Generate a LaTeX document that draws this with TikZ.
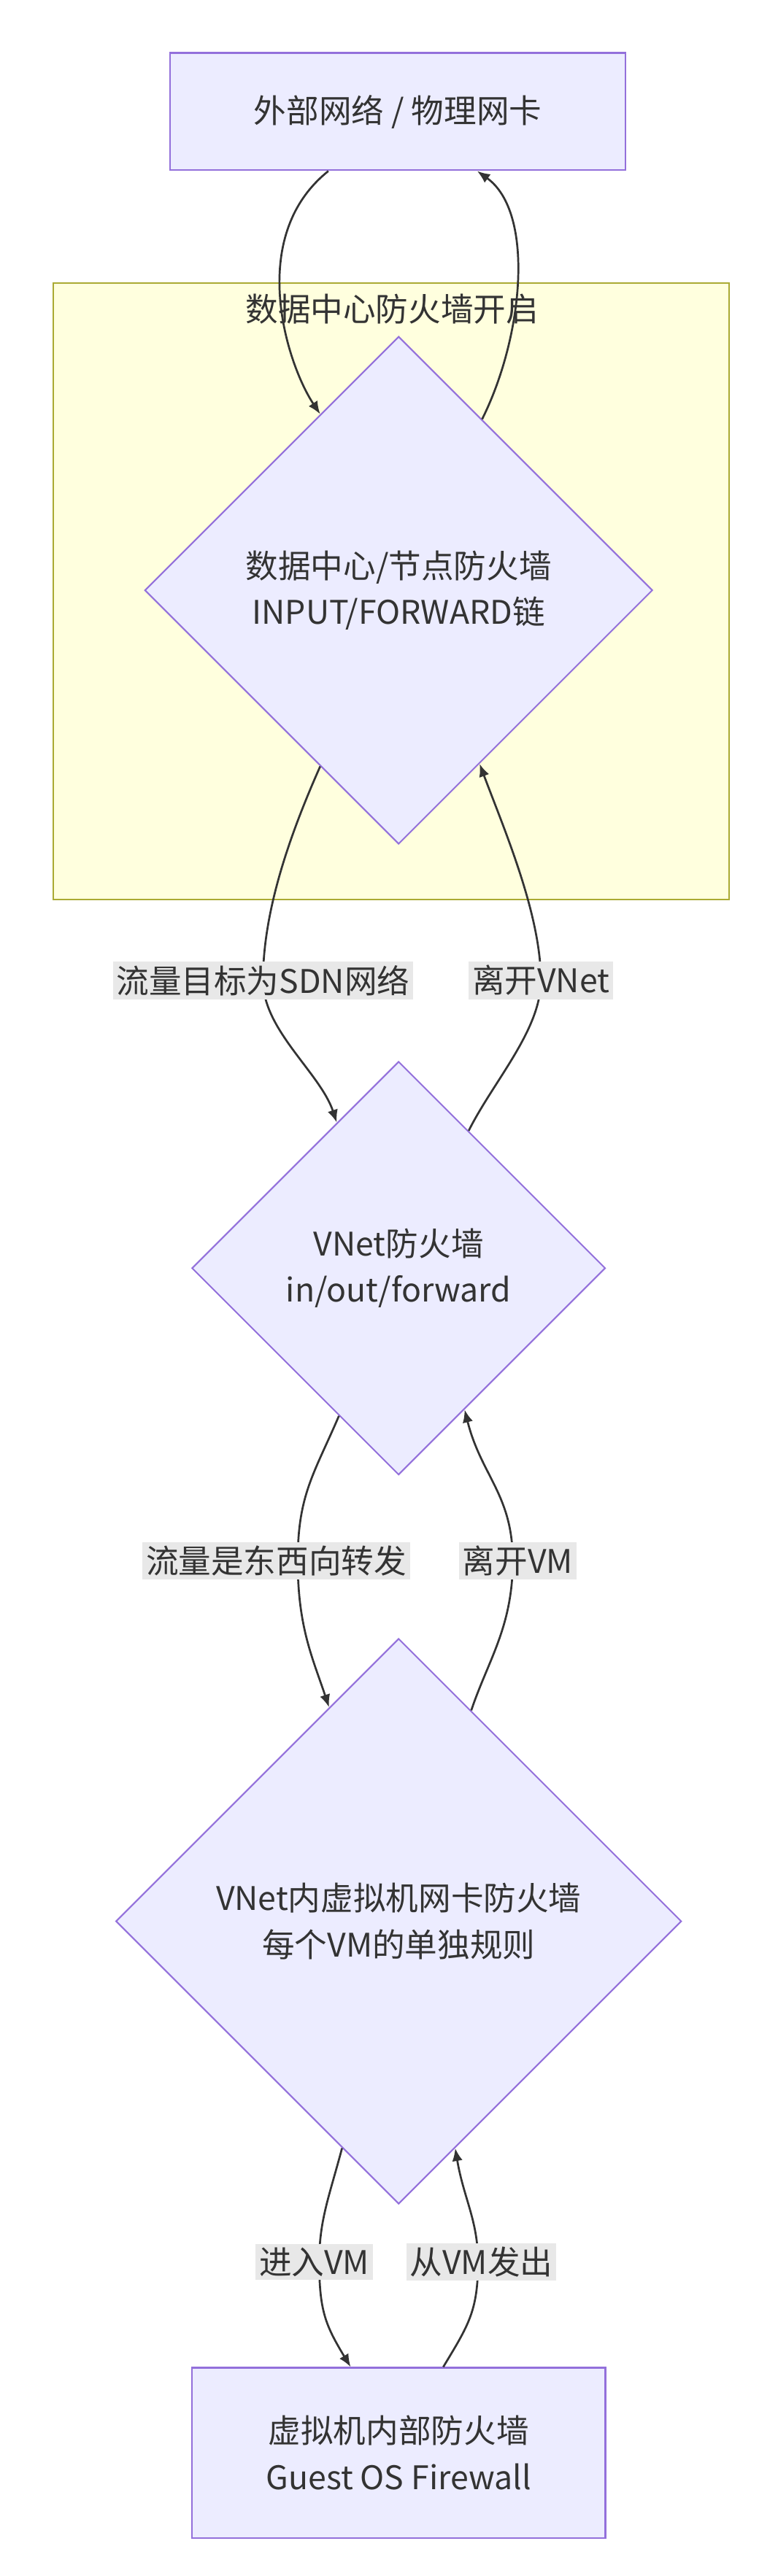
\documentclass[tikz,border=0pt]{standalone}
\usepackage{fontspec}
\setmainfont{Noto Sans CJK SC}
\usetikzlibrary{shapes.geometric,arrows.meta}
\definecolor{nodefill}{HTML}{ECECFF}
\definecolor{nodeline}{HTML}{9370DB}
\definecolor{clusterfill}{HTML}{FFFFDE}
\definecolor{clusterline}{HTML}{AAAA33}
\definecolor{labelfill}{HTML}{E8E8E8}
\definecolor{edgeline}{HTML}{333333}
\tikzstyle{box}=[rectangle,fill=nodefill,draw=nodeline,line width=1.3pt,align=center,inner sep=0pt]
\tikzstyle{dia}=[diamond,fill=nodefill,draw=nodeline,line width=1.3pt,align=center,inner sep=0pt]
\tikzstyle{elabel}=[fill=labelfill,inner sep=3pt]
\tikzstyle{arr}=[draw=edgeline,line width=1.7pt,-{Latex[length=11pt,width=9pt]}]
\begin{document}
\begin{tikzpicture}[x=0.05cm,y=-0.05cm,font=\fontsize{28}{40}\selectfont,text=edgeline]
	\useasboundingbox (0,0) rectangle (470,1558);

	\node[rectangle,fill=clusterfill,draw=clusterline,line width=1.3pt,minimum width=20.45cm,minimum height=18.65cm](dc) at (236.5,357.5){};
	\node (dctitle) at (237,187) {数据中心防火墙开启};

	\node[box,minimum width=13.75cm,minimum height=3.55cm](net) at (240.5,67.5){外部网络 / 物理网卡};
	\node[dia,minimum size=15.35cm](dcfw) at (241,357){数据中心/节点防火墙\\INPUT/FORWARD链};
	\node[dia,minimum size=12.5cm](vnet) at (241,767){VNet防火墙\\in/out/forward};
	\node[dia,minimum size=17.1cm](vmnic) at (241,1162){VNet内虚拟机网卡防火墙\\每个VM的单独规则};
	\node[box,minimum width=12.5cm,minimum height=5.15cm](guest) at (241,1483.5){虚拟机内部防火墙\\Guest OS Firewall};

	% external <-> datacenter
	\draw[arr] ([xshift=-2.1cm]net.south) .. controls +(-50,40) and +(-20,-30) .. (dcfw.114);
	\draw[arr] (dcfw.64) .. controls +(25,-50) and +(35,25) .. ([xshift=2.4cm]net.south);

	% datacenter <-> vnet
	\coordinate (sdn) at (159,593);
	\coordinate (outvnet) at (327,593);
	\draw[arr] (dcfw.246) .. controls +(-20,45) and +(0,-40) .. (sdn) .. controls +(0,30) and +(-10,-30) .. (vnet.113);
	\draw[arr] (vnet.63) .. controls +(15,-30) and +(0,30) .. (outvnet) .. controls +(0,-40) and +(15,40) .. (dcfw.295);
	\node[elabel](sdnl) at (sdn){流量目标为SDN网络};
	\node[elabel](outvnetl) at (outvnet){离开VNet};

	% vnet <-> vm nic
	\coordinate (ew) at (180,944);
	\coordinate (outvm) at (310,944);
	\draw[arr] (vnet.248) .. controls +(-15,35) and +(0,-40) .. (ew) .. controls +(0,40) and +(-10,-30) .. (vmnic.108);
	\draw[arr] (vmnic.71) .. controls +(10,-30) and +(0,40) .. (outvm) .. controls +(0,-40) and +(10,40) .. (vnet.295);
	\node[elabel](ewl) at (167,944){流量是东西向转发};
	\node[elabel](outvml) at (313,944){离开VM};

	% vm nic <-> guest
	\coordinate (invm) at (193,1368);
	\coordinate (fromvm) at (289,1368);
	\draw[arr] (vmnic.256) .. controls +(-8,30) and +(0,-25) .. (invm) .. controls +(0,30) and +(-15,-25) .. ([xshift=-1.45cm]guest.north);
	\draw[arr] ([xshift=1.35cm]guest.north) .. controls +(15,-25) and +(0,30) .. (fromvm) .. controls +(0,-25) and +(5,30) .. (vmnic.284);
	\node[elabel](invml) at (190,1368){进入VM};
	\node[elabel](fromvml) at (291,1368){从VM发出};
\end{tikzpicture}
\end{document}
